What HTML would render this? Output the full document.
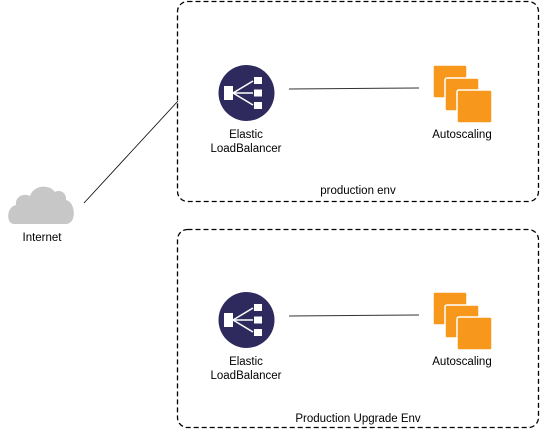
<!DOCTYPE html>
<html><head><style>
html,body{margin:0;padding:0;background:#fff;}
svg{display:block;}
text{font-family:"Liberation Sans",sans-serif;font-size:11.5px;fill:#000;}
</style></head><body>
<svg width="540" height="429" viewBox="0 0 540 429" xmlns="http://www.w3.org/2000/svg">
<rect x="177.5" y="1.5" width="361" height="200" rx="10" fill="none" stroke="#000" stroke-width="1.3" stroke-dasharray="5,3"/>
<rect x="177.5" y="229.5" width="361" height="198" rx="10" fill="none" stroke="#000" stroke-width="1.3" stroke-dasharray="5,3"/>
<line x1="84" y1="203" x2="178" y2="101" stroke="#000" stroke-width="0.8"/>
<path d="M14,224 C6,224 6,207 16,205 C15,196 24,193 30,196 C33,186 48,183 55,192 C60,189 67,193 66,200 C76,202 77,224 66,224 Z" fill="#c7c7c7"/>
<text x="42" y="241" text-anchor="middle">Internet</text>
<g id="row">
<line x1="289" y1="89" x2="419" y2="88" stroke="#333" stroke-width="1"/>
<circle cx="246.5" cy="93" r="28" fill="#2e2a5e"/>
<rect x="224" y="86" width="9" height="14" fill="#fff"/>
<g stroke="#fff" stroke-width="1.6">
<line x1="233" y1="93" x2="253" y2="81"/>
<line x1="233" y1="93" x2="253" y2="93"/>
<line x1="233" y1="93" x2="253" y2="105"/>
</g>
<rect x="254" y="77" width="8" height="7" fill="#fff"/>
<rect x="254" y="89.5" width="8" height="7" fill="#fff"/>
<rect x="254" y="102" width="8" height="7" fill="#fff"/>
<text x="246" y="138" text-anchor="middle">Elastic</text>
<text x="246" y="152" text-anchor="middle">LoadBalancer</text>
<rect x="433" y="65" width="34" height="33" rx="2" fill="#f7981d" stroke="#fff" stroke-width="1.5"/>
<rect x="445" y="78" width="34" height="33" rx="2" fill="#f7981d" stroke="#fff" stroke-width="1.5"/>
<rect x="457" y="90" width="35" height="33" rx="2" fill="#f7981d" stroke="#fff" stroke-width="1.5"/>
<text x="462" y="138" text-anchor="middle">Autoscaling</text>
</g>
<use href="#row" transform="translate(0,227)"/>
<text x="358" y="194" text-anchor="middle">production env</text>
<text x="358" y="422" text-anchor="middle">Production Upgrade Env</text>
</svg>
</body></html>
